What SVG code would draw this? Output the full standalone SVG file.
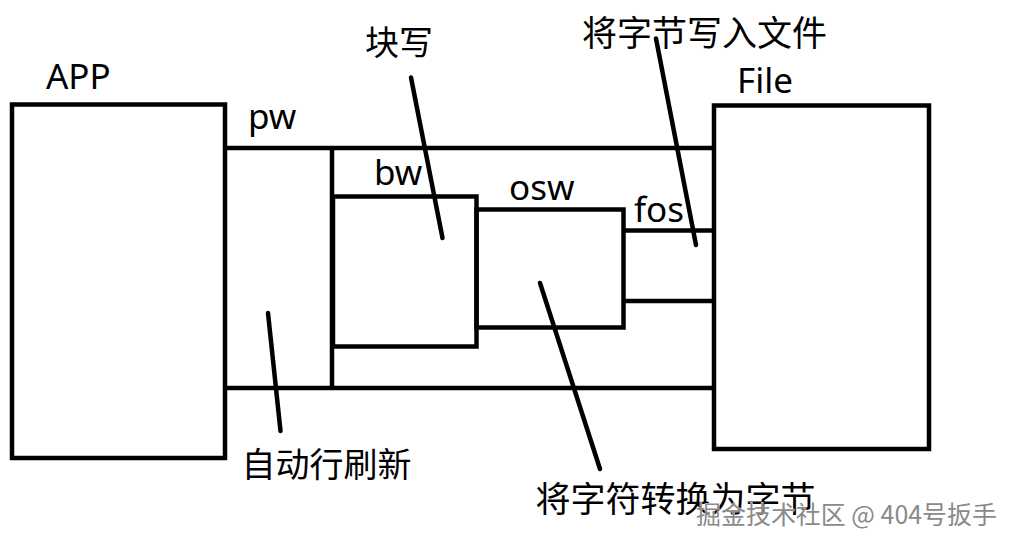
<svg xmlns="http://www.w3.org/2000/svg" width="1016" height="547" viewBox="0 0 1016 547">
<style>
.box{fill:none;stroke:#000;stroke-width:4.5}
.ln{stroke:#000;stroke-width:4.5;fill:none}
.lead{stroke:#000;stroke-width:4.5;stroke-linecap:round;fill:none}
.lat{font-family:"Noto Sans","Liberation Sans",sans-serif;font-size:35px;fill:#000}
.cjk{font-family:"Noto Sans CJK SC","Noto Sans",sans-serif;fill:#000}
.wm{font-family:"Noto Sans CJK SC","Noto Sans",sans-serif;font-size:25px;fill:#8a8a8a;stroke:#ffffff;stroke-width:0.6;paint-order:stroke}
</style>
<rect width="1016" height="547" fill="#fff"/>
<g id="app">
<rect class="box" x="12" y="104.5" width="213" height="353.5"/>
<text class="lat" x="46" y="89" font-size="36">APP</text>
</g>
<g id="pipe">
<line class="ln" x1="225" y1="148" x2="714" y2="148"/>
<line class="ln" x1="225" y1="388" x2="714" y2="388"/>
</g>
<g id="pw">
<line class="ln" x1="332" y1="148" x2="332" y2="388"/>
<text class="lat" x="248" y="129">pw</text>
</g>
<g id="bw">
<rect class="box" x="333" y="196.5" width="143.5" height="150"/>
<text class="lat" x="374" y="185">bw</text>
</g>
<g id="osw">
<rect class="box" x="476.5" y="209.5" width="147" height="118"/>
<text class="lat" x="509" y="200">osw</text>
</g>
<g id="fos">
<line class="ln" x1="623.5" y1="230.5" x2="714" y2="230.5"/>
<line class="ln" x1="623.5" y1="301" x2="714" y2="301"/>
<text class="lat" x="634" y="221.5">fos</text>
</g>
<g id="file">
<rect class="box" x="714" y="105.5" width="215" height="343.5"/>
<text class="lat" x="737" y="92.5" font-size="36">File</text>
</g>
<g id="connectors">
<line class="lead" x1="268" y1="313" x2="280.5" y2="431"/>
<line class="lead" x1="411" y1="77.5" x2="442.5" y2="238"/>
<line class="lead" x1="656" y1="38.5" x2="696" y2="245"/>
<line class="lead" x1="540" y1="283" x2="600" y2="469"/>
</g>
<g id="labels">
<text class="cjk" x="365" y="55" font-size="34">块写</text>
<text class="cjk" x="582" y="45.5" font-size="35">将字节写入文件</text>
<text class="cjk" x="241.5" y="477" font-size="34">自动行刷新</text>
<text class="cjk" x="535.5" y="512" font-size="35">将字符转换为字节</text>
</g>
<text class="wm" x="696" y="524" textLength="301" lengthAdjust="spacingAndGlyphs">掘金技术社区 @ 404号扳手</text>
</svg>
